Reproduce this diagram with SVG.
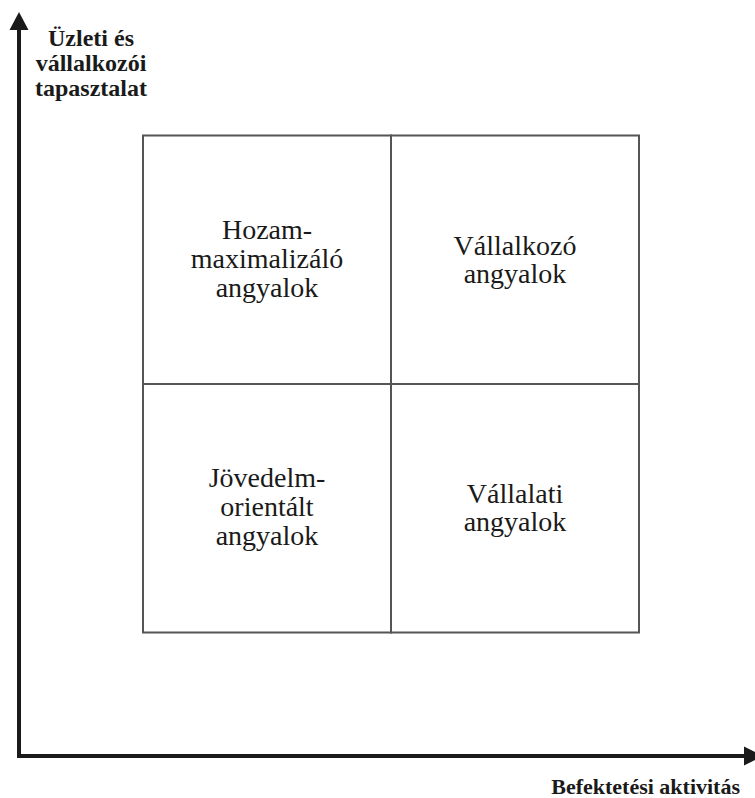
<svg xmlns="http://www.w3.org/2000/svg" width="755" height="798" viewBox="0 0 755 798">
  <style>
    .axis { stroke: #1a1a1a; stroke-width: 4; fill: none; }
    .head { fill: #1a1a1a; }
    .grid { stroke: #555; stroke-width: 2; fill: none; }
    .axislabel { font-family: "Liberation Serif", "Times New Roman", serif; font-weight: bold; font-size: 24px; fill: #1a1a1a; text-anchor: middle; }
    .quad { font-family: "Liberation Serif", "Times New Roman", serif; font-size: 28px; fill: #1a1a1a; text-anchor: middle; }
  </style>
  <rect width="755" height="798" fill="#fff"/>

  <!-- axes -->
  <g id="connectors">
    <path class="axis" d="M19 28 V756 H746"/>
    <polygon class="head" points="19,12 9.5,30 28.5,30"/>
    <polygon class="head" points="763,756 744,746.5 744,765.5"/>
  </g>

  <!-- axis labels -->
  <g id="y-axis-label">
    <text class="axislabel" x="91" y="46">Üzleti és</text>
    <text class="axislabel" x="91" y="71">vállalkozói</text>
    <text class="axislabel" x="91" y="96">tapasztalat</text>
  </g>
  <g id="x-axis-label">
    <text class="axislabel" x="740" y="794" style="text-anchor:end;font-size:22px">Befektetési aktivitás</text>
  </g>

  <!-- 2x2 matrix -->
  <g id="quadrant-top-left">
    <rect class="grid" x="143" y="135.5" width="248" height="248.5"/>
    <text class="quad" x="267" y="239">Hozam-</text>
    <text class="quad" x="267" y="268">maximalizáló</text>
    <text class="quad" x="267" y="297">angyalok</text>
  </g>
  <g id="quadrant-top-right">
    <rect class="grid" x="391" y="135.5" width="248" height="248.5"/>
    <text class="quad" x="515" y="255">Vállalkozó</text>
    <text class="quad" x="515" y="283">angyalok</text>
  </g>
  <g id="quadrant-bottom-left">
    <rect class="grid" x="143" y="384" width="248" height="248.5"/>
    <text class="quad" x="267" y="487">Jövedelm-</text>
    <text class="quad" x="267" y="516">orientált</text>
    <text class="quad" x="267" y="545">angyalok</text>
  </g>
  <g id="quadrant-bottom-right">
    <rect class="grid" x="391" y="384" width="248" height="248.5"/>
    <text class="quad" x="515" y="503">Vállalati</text>
    <text class="quad" x="515" y="531">angyalok</text>
  </g>
</svg>
